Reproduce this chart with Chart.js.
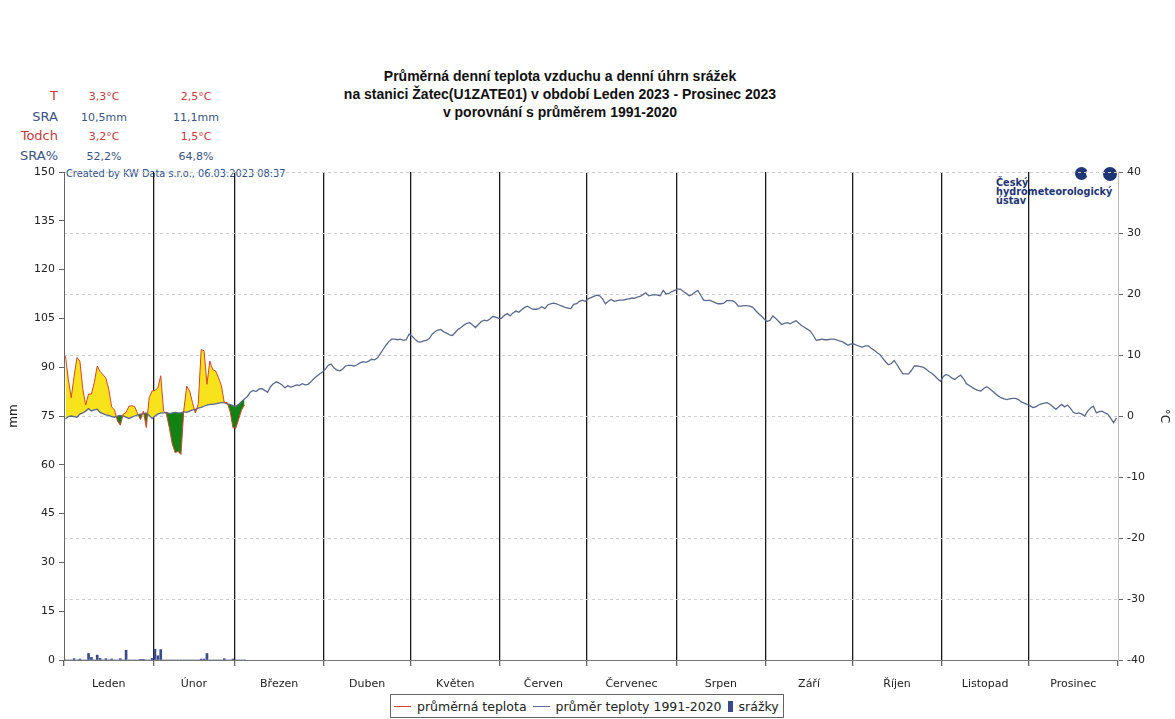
<!DOCTYPE html>
<html lang="cs">
<head>
<meta charset="utf-8">
<title>Žatec 2023</title>
<script src="https://cdn.jsdelivr.net/npm/chart.js@4.4.1/dist/chart.umd.min.js"></script>
<style>
  body { margin: 0; background: #fff; }
  #wrap { position: relative; width: 1175px; height: 719px; overflow: hidden; font-family: "DejaVu Sans", sans-serif; }
  #graf { position: absolute; left: 0; top: 0; z-index: 2; }
  .lay { position: absolute; z-index: 1; white-space: nowrap; }
  #nadpis { left: 0; top: 67px; width: 1120px; text-align: center; font: bold 14px "Liberation Sans", Arial, sans-serif; line-height: 18px; color: #111; }
  .stat { font-size: 13px; text-align: right; width: 58px; left: 0; }
  .val { font-size: 11px; text-align: center; width: 70px; }
  .red { color: #c23b3b; }
  .blu { color: #3a5482; }
  #created { left: 66px; top: 168px; font-size: 9.8px; color: #2e4f8c; }
  #logo { left: 996px; top: 178px; font: bold 9.7px "DejaVu Sans", sans-serif; line-height: 9px; color: #1f3576; }
  .dot { position: absolute; border-radius: 50%; background: #1f3576; z-index: 1; }
  #legenda { position: absolute; z-index: 3; left: 390px; top: 694px; height: 22px; border: 1px solid #666;
             display: flex; align-items: center; padding: 0 4px 0 3px; font-size: 12.5px; color: #222; background: #fff; }
  .ln { display: inline-block; width: 17px; height: 1px; margin: 0 6px 0 0; }
  .bx { display: inline-block; width: 5px; height: 11px; background: #3b4a8a; margin: 0 6px 0 0; }
  .it { margin-right: 6px; display: flex; align-items: center; }
</style>
</head>
<body>
<div id="wrap">
  <div id="nadpis" class="lay">Průměrná denní teplota vzduchu a denní úhrn srážek<br>na stanici Žatec(U1ZATE01) v období Leden 2023 - Prosinec 2023<br>v porovnání s průměrem 1991-2020</div>

  <div class="lay stat red" style="top:88px">T</div>
  <div class="lay stat blu" style="top:109px">SRA</div>
  <div class="lay stat red" style="top:128px">Todch</div>
  <div class="lay stat blu" style="top:148px">SRA%</div>
  <div class="lay val red" style="left:69px;top:90px">3,3°C</div>
  <div class="lay val red" style="left:161px;top:90px">2,5°C</div>
  <div class="lay val blu" style="left:69px;top:111px">10,5mm</div>
  <div class="lay val blu" style="left:161px;top:111px">11,1mm</div>
  <div class="lay val red" style="left:69px;top:130px">3,2°C</div>
  <div class="lay val red" style="left:161px;top:130px">1,5°C</div>
  <div class="lay val blu" style="left:69px;top:150px">52,2%</div>
  <div class="lay val blu" style="left:161px;top:150px">64,8%</div>

  <div id="created" class="lay">Created by KW Data s.r.o., 06.03.2023 08:37</div>
  <div class="dot" style="left:1075px;top:167px;width:13px;height:13px"></div>
  <div class="dot" style="left:1086px;top:170px;width:7px;height:7px;background:#fff"></div>
  <div class="dot" style="left:1103px;top:167px;width:14px;height:14px"></div>
  <div id="logo" class="lay">Český<br>hydrometeorologický<br>ústav</div>

  <canvas id="graf" width="1175" height="719"></canvas>

  <div id="legenda">
    <span class="it"><span class="ln" style="background:#d2452a"></span>průměrná teplota</span>
    <span class="it"><span class="ln" style="background:#5b6a8c"></span>průměr teploty 1991-2020</span>
    <span class="it" style="margin-right:0"><span class="bx"></span>srážky</span>
  </div>
</div>

<script>
// months of 2023
const months = ['Leden', 'Únor', 'Březen', 'Duben', 'Květen', 'Červen', 'Červenec', 'Srpen', 'Září', 'Říjen', 'Listopad', 'Prosinec'];
const monthDays = [31, 28, 31, 30, 31, 30, 31, 31, 30, 31, 30, 31];

// daily mean temperature 2023 (°C), 1.1. - 4.3.
const tempDaily = [
  9.8, 6.0, 3.0, 6.5, 9.6, 9.0, 4.5, 1.8, 3.6, 3.6, 5.5, 8.2, 7.3, 6.8, 6.2, 4.4, 1.5, 1.0, -0.8, -1.5,
  0.3, 0.6, 1.6, 1.7, 1.5, 0.4, -0.6, 0.8, -1.9, 3.0, 4.1,
  4.2, 4.6, 6.6, 0.8, 0.3, -2.0, -4.6, -6.0, -5.8, -6.3, 1.0, 4.9, 4.1, 2.2, 0.5, 2.0, 10.9, 10.7, 5.2, 9.0,
  7.6, 7.4, 6.3, 5.0, 2.2, 2.2, 0.8, -1.9,
  -2.0, -0.5, 1.0, 1.8
];

// normal 1991-2020 (°C), 1.1. - 31.12.
const tempNormal = [
  -0.5, -0.1, 0.0, -0.1, -0.2, 0.3, 0.5, 0.8, 1.2, 0.8, 1.0, 1.1, 0.6, 0.4, 0.2, 0.1, -0.1, -0.2, 0.0, 0.1, 0.0, -0.2, -0.4, -0.2, 0.0, 0.2, 0.3, 0.4, 0.5, 0.1, -0.4,
  0.0, 0.3, 0.5, 0.5, 0.6, 0.4, 0.5, 0.6, 0.5, 0.5, 0.7, 0.6, 0.8, 1.0, 1.1, 1.3, 1.4, 1.6, 1.8, 1.9, 1.9, 2.0, 2.1, 2.2, 2.2, 2.0, 1.9, 1.7,
  1.6, 1.9, 2.4, 2.8, 3.2, 3.9, 4.2, 4.0, 4.4, 4.5, 4.2, 3.9, 4.8, 5.3, 5.6, 5.4, 5.1, 4.6, 5.0, 4.7, 4.9, 5.1, 5.0, 5.3, 5.1, 5.2, 5.6, 6.1, 6.5, 6.9, 7.2,
  7.7, 8.3, 8.5, 7.9, 7.5, 7.4, 7.7, 8.2, 8.3, 8.3, 8.2, 8.4, 8.7, 8.9, 8.8, 9.0, 9.3, 9.2, 9.5, 10.2, 10.9, 11.6, 12.2, 12.6, 12.6, 12.5, 12.6, 12.4, 12.5, 13.4,
  13.1, 12.6, 12.2, 12.1, 12.3, 12.4, 12.7, 13.4, 13.8, 14.1, 14.2, 13.8, 13.6, 13.3, 13.2, 13.7, 14.2, 14.5, 14.9, 15.2, 15.3, 14.9, 14.5, 15.0, 15.5, 15.7, 15.6, 15.9, 16.3, 16.2, 16.0,
  16.0, 16.5, 16.8, 16.4, 16.9, 17.2, 17.0, 17.4, 17.8, 18.0, 17.7, 17.5, 17.5, 17.6, 17.9, 17.6, 18.2, 18.4, 18.5, 18.4, 18.2, 18.0, 17.8, 17.7, 17.6, 18.3, 18.4, 18.8, 19.0, 18.8,
  19.2, 19.4, 19.6, 19.8, 19.7, 19.2, 18.4, 18.8, 19.1, 18.8, 18.9, 19.0, 19.0, 19.1, 19.2, 19.3, 19.3, 19.5, 19.6, 19.9, 20.2, 19.7, 19.8, 19.9, 19.8, 19.7, 20.6, 20.0, 20.1, 20.4, 20.6,
  20.8, 20.8, 20.4, 20.1, 19.7, 19.9, 20.3, 20.6, 19.8, 19.0, 18.9, 19.0, 18.8, 18.6, 18.4, 18.4, 18.5, 18.9, 18.9, 18.9, 18.6, 18.0, 18.0, 18.1, 18.1, 18.0, 17.8, 17.3, 16.8, 16.4, 15.9,
  15.5, 15.7, 16.4, 16.0, 15.5, 15.0, 15.2, 15.3, 15.1, 15.4, 15.6, 15.2, 14.8, 14.5, 14.2, 13.9, 13.2, 12.4, 12.5, 12.6, 12.5, 12.5, 12.6, 12.6, 12.5, 12.3, 12.2, 11.9, 11.6, 11.8,
  11.8, 11.6, 11.4, 11.3, 11.5, 11.5, 11.1, 10.8, 10.4, 10.1, 9.5, 8.9, 8.4, 8.6, 9.1, 8.4, 7.6, 6.9, 6.9, 6.9, 7.5, 8.2, 8.2, 8.1, 8.0, 7.7, 7.3, 7.0, 6.6, 6.1, 5.7,
  6.5, 6.8, 6.6, 6.2, 6.0, 6.4, 6.7, 6.1, 5.3, 5.0, 4.7, 4.4, 4.2, 4.1, 4.5, 4.8, 4.5, 4.1, 3.7, 3.3, 3.0, 2.8, 2.7, 2.8, 2.9, 2.9, 2.7, 2.3, 2.1, 1.9,
  1.7, 1.4, 1.5, 1.8, 2.0, 2.1, 2.2, 1.9, 1.5, 1.1, 1.5, 1.9, 1.5, 1.8, 1.3, 0.6, 0.4, 0.5, 0.3, 0.0, 0.8, 1.3, 1.6, 0.5, 0.7, 0.8, 0.5, 0.3, -0.4, -1.1, -0.3
];

// daily precipitation (mm), 1.1. - 4.3.
const precip = [
  0, 0, 0, 0.4, 0, 0.3, 0, 0, 2.0, 0.8, 0, 1.5, 0.5, 0, 0.4, 0, 0.3, 0, 0, 0.4,
  0, 3.0, 0, 0, 0, 0, 0.2, 0.2, 0, 0, 0.5,
  3.3, 1.3, 3.2, 0, 0, 0, 0, 0, 0, 0, 0, 0, 0, 0, 0, 0, 0.3, 0.3, 2.0, 0,
  0, 0, 0, 0, 0.4, 0, 0, 0.3,
  0, 0, 0, 0
];

const mmTicks = { min: 0, max: 150, step: 15 };
const tempTicks = { min: -40, max: 40, step: 10 };

// month boundaries + centres for the x axis
const bounds = [0];
monthDays.forEach(d => bounds.push(bounds[bounds.length - 1] + d));
const mids = monthDays.map((d, i) => bounds[i] + d / 2);

const pts = arr => arr.map((v, i) => ({ x: i + 0.5, y: v }));
const fnt = { family: 'DejaVu Sans', size: 11 };

new Chart(document.getElementById('graf'), {
  type: 'line',
  data: {
    datasets: [
      {
        label: 'průměrná teplota',
        data: pts(tempDaily),
        yAxisID: 'y1',
        borderColor: '#d2452a',
        borderWidth: 1,
        pointRadius: 0,
        fill: { target: 1, above: '#f8e21c', below: '#138214' },
        order: 0
      },
      {
        label: 'průměr teploty 1991-2020',
        data: pts(tempNormal),
        yAxisID: 'y1',
        borderColor: '#5b6a8c',
        borderWidth: 1.3,
        pointRadius: 0,
        fill: false,
        order: 1
      },
      {
        type: 'bar',
        label: 'srážky',
        data: pts(precip),
        yAxisID: 'y',
        backgroundColor: '#3b4a8a',
        barThickness: 2,
        order: 2
      }
    ]
  },
  options: {
    responsive: false,
    animation: false,
    events: [],
    layout: { padding: { top: 172, bottom: 19, left: 0, right: 0 } },
    plugins: {
      legend: { display: false },
      title: { display: false },
      tooltip: { enabled: false },
      filler: { drawTime: 'beforeDatasetsDraw' }
    },
    scales: {
      x: {
        type: 'linear',
        min: 0,
        max: 365,
        offset: false,
        afterBuildTicks: s => {
          s.ticks = bounds.concat(mids).sort((a, b) => a - b).map(v => ({ value: v }));
        },
        afterFit: s => { s.height = 40; },
        ticks: {
          autoSkip: false,
          maxRotation: 0,
          padding: 12,
          font: fnt,
          color: '#222',
          callback: v => { const i = mids.indexOf(v); return i >= 0 ? months[i] : ''; }
        },
        grid: {
          offset: false,
          color: c => (c.tick && bounds.includes(c.tick.value) && c.tick.value > 0 && c.tick.value < 365) ? '#1a1a1a' : 'rgba(0,0,0,0)',
          lineWidth: 1.3,
          tickColor: c => (c.tick && bounds.includes(c.tick.value)) ? '#666' : 'rgba(0,0,0,0)',
          tickLength: 6
        },
        border: { color: '#777' }
      },
      y: {
        position: 'left',
        min: mmTicks.min,
        max: mmTicks.max,
        afterFit: s => { s.width = 64; },
        ticks: { stepSize: mmTicks.step, font: fnt, color: '#222', padding: 4 },
        grid: { drawOnChartArea: false, tickLength: 5, tickColor: '#666' },
        border: { color: '#666' },
        title: { display: true, text: 'mm', font: { family: 'DejaVu Sans', size: 12 }, color: '#222', padding: { top: 7, bottom: 8 } }
      },
      y1: {
        position: 'right',
        min: tempTicks.min,
        max: tempTicks.max,
        afterFit: s => { s.width = 57; },
        ticks: { stepSize: tempTicks.step, font: fnt, color: '#222', padding: 4 },
        grid: { color: '#cdcdcd', lineWidth: 1, tickLength: 5, tickColor: '#666' },
        border: { color: '#bbb', dash: [3, 3] },
        title: { display: true, text: '°C', font: { family: 'DejaVu Sans', size: 12 }, color: '#222' }
      }
    }
  }
});
</script>
</body>
</html>
